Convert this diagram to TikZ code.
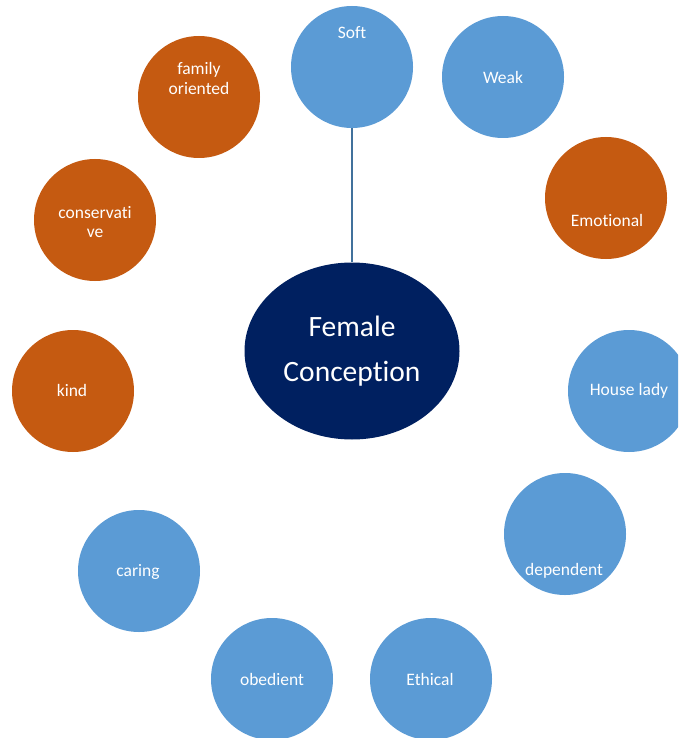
\documentclass[tikz,border=0pt]{standalone}
\usepackage{fontspec}
\setmainfont[Ligatures=NoCommon]{Carlito}
\usetikzlibrary{shapes.geometric}
\begin{document}
\begin{tikzpicture}[x=1pt,y=-1pt,
  bub/.style={circle,minimum size=122pt,inner sep=0pt,draw=none},
  bblue/.style={bub,fill=cblue},
  borange/.style={bub,fill=corange},
  lbl/.style={text=white,font=\fontsize{17.5}{20}\selectfont,align=center,inner sep=0pt},
  ]
\definecolor{cblue}{HTML}{5B9BD5}
\definecolor{corange}{HTML}{C55A11}
\definecolor{cnavy}{HTML}{002060}
\definecolor{cline}{HTML}{41719C}
\useasboundingbox (0,0) rectangle (678,738);
\clip (0,0) rectangle (678,738);
\fill[white] (0,0) rectangle (678,738);
% central ellipse
\node[ellipse,fill=cnavy,minimum width=215pt,minimum height=177pt,inner sep=0pt] (fc) at (352,351) {};
\node[text=white,font=\fontsize{29.5}{45}\selectfont,align=center,inner sep=0pt] (fct) at (352,351) {Female\\Conception};
% bubbles
\node[bblue] (soft) at (352,67) {};
\node[lbl] (softt) at (352,33) {Soft};
\node[bblue] (weak) at (503,77) {};
\node[lbl] (weakt) at (503,77) {Weak};
\node[borange] (emo) at (606,198) {};
\node[lbl] (emot) at (607,220) {Emotional};
\node[bblue] (house) at (629,391) {};
\node[lbl] (houset) at (629,391) {House lady};
\node[bblue] (dep) at (565,534) {};
\node[lbl] (dept) at (564,571) {dependent};
\node[bblue] (eth) at (431,679) {};
\node[lbl] (etht) at (430,679) {Ethical};
\node[bblue] (obe) at (272,679) {};
\node[lbl] (obet) at (272,679) {obedient};
\node[bblue] (car) at (139,571) {};
\node[lbl] (cart) at (138,572) {caring};
\node[borange] (kind) at (73,391) {};
\node[lbl] (kindt) at (72,390) {kind};
\node[borange] (cons) at (95,220) {};
\node[lbl,font=\fontsize{17.5}{19}\selectfont] (const) at (95,222) {conservati\\ve};
\node[borange] (fam) at (199,97) {};
\node[lbl,font=\fontsize{17.5}{20}\selectfont] (famt) at (199,78) {family\\oriented};
% connector
\draw[cline,line width=1.2pt] (soft.south) -- (fc.north);
\end{tikzpicture}
\end{document}
